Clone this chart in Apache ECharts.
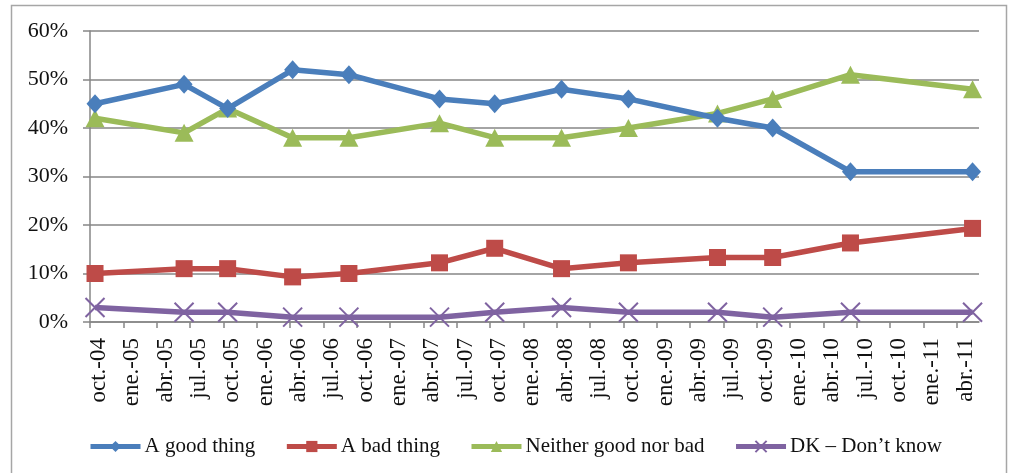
<!DOCTYPE html>
<html>
<head>
<meta charset="utf-8">
<script src="https://cdn.jsdelivr.net/npm/echarts@6/dist/echarts.min.js"></script>
<style>
  html, body { margin: 0; padding: 0; background: #fff; }
  #chart { width: 1012px; height: 473px; }
</style>
</head>
<body>
<div id="chart"></div>
<script>
// Quarterly tick labels on the date axis, starting October 2004
const tickLabels = ['oct.-04', 'ene.-05', 'abr.-05', 'jul.-05', 'oct.-05', 'ene.-06', 'abr.-06',
  'jul.-06', 'oct.-06', 'ene.-07', 'abr.-07', 'jul.-07', 'oct.-07', 'ene.-08', 'abr.-08',
  'jul.-08', 'oct.-08', 'ene.-09', 'abr.-09', 'jul.-09', 'oct.-09', 'ene.-10', 'abr.-10',
  'jul.-10', 'oct.-10', 'ene.-11', 'abr.-11'];

// Survey fieldwork dates
const surveyDates = ['2004-10-15', '2005-06-15', '2005-10-13', '2006-04-08', '2006-09-10',
  '2007-05-15', '2007-10-14', '2008-04-14', '2008-10-15', '2009-06-15', '2009-11-14',
  '2010-06-14', '2011-05-14'];

// Shares of respondents (%)
const goodThing = [45, 49, 44, 52, 51, 46, 45, 48, 46, 42, 40, 31, 31];
const badThing = [10, 11, 11, 9.3, 10, 12.2, 15.2, 11, 12.2, 13.3, 13.3, 16.3, 19.3];
const neither = [42, 39, 44, 38, 38, 41, 38, 38, 40, 43, 46, 51, 48];
const dontKnow = [3, 2, 2, 1, 1, 1, 2, 3, 2, 2, 1, 2, 2];

const seriesNames = ['A good thing', 'A bad thing', 'Neither good nor bad', 'DK \u2013 Don\u2019t know'];
const colors = ['#4A7EBB', '#BE4B48', '#9BBB59', '#7F63A1'];

// Months elapsed since 1 October 2004 (fractional, day-level)
function monthsFromStart(iso) {
  const [y, m, d] = iso.split('-').map(Number);
  const dim = new Date(y, m, 0).getDate();
  return (y - 2004) * 12 + (m - 10) + (d - 1) / dim;
}
const xs = surveyDates.map(monthsFromStart);
const pair = vals => vals.map((v, i) => [xs[i], v]);

const tickValues = tickLabels.map((_, i) => i * 3);
const labelShift = 0.8; // labels sit just inside the first month of each quarter
const labelValues = tickValues.map(v => v + labelShift);

const serif = 'Liberation Serif, Times New Roman, serif';

function lineSeries(idx, data, symbol, size, extra) {
  return Object.assign({
    name: seriesNames[idx],
    type: 'line',
    data: pair(data),
    symbol: symbol,
    symbolSize: size,
    showAllSymbol: true,
    z: 10 - idx,
    lineStyle: { width: 5.5, color: colors[idx] },
    itemStyle: { color: colors[idx] },
    emphasis: { disabled: true },
    animation: false
  }, extra || {});
}

const chart = echarts.init(document.getElementById('chart'), null, { renderer: 'canvas' });
chart.setOption({
  backgroundColor: '#ffffff',
  animation: false,
  graphic: [{
    type: 'rect',
    shape: { x: 11.5, y: 5.5, width: 995, height: 480 },
    style: { fill: 'none', stroke: '#A6A6A6', lineWidth: 1.5 },
    silent: true
  }],
  grid: { left: 90, right: 33, top: 31, bottom: 151 },
  xAxis: {
    type: 'value',
    min: 0,
    max: 80,
    axisLine: { show: true, lineStyle: { color: '#868686', width: 1.5 } },
    axisTick: { show: true, length: 6, customValues: tickValues, lineStyle: { color: '#868686', width: 1.5 } },
    splitLine: { show: false },
    axisLabel: {
      customValues: labelValues,
      rotate: 90,
      margin: 16,
      fontFamily: serif,
      fontSize: 23,
      color: '#111',
      formatter: v => tickLabels[Math.round((v - labelShift) / 3)] || ''
    }
  },
  yAxis: {
    type: 'value',
    min: 0,
    max: 60,
    interval: 10,
    axisLine: { show: true, lineStyle: { color: '#868686', width: 1.5 } },
    axisTick: { show: true, length: 7, lineStyle: { color: '#868686', width: 1.5 } },
    splitLine: { show: true, lineStyle: { color: '#868686', width: 1.5 } },
    axisLabel: {
      margin: 22,
      fontFamily: serif,
      fontSize: 22,
      color: '#111',
      formatter: '{value}%'
    }
  },
  legend: {
    left: 88,
    top: 436,
    padding: 0,
    itemWidth: 50,
    itemHeight: 14,
    itemGap: 29,
    lineStyle: { width: 5 },
    textStyle: { fontFamily: serif, fontSize: 21, color: '#111', padding: [0, 0, 0, -1] },
    data: seriesNames
  },
  series: [
    lineSeries(0, goodThing, 'diamond', [17, 19]),
    lineSeries(1, badThing, 'rect', 17),
    lineSeries(2, neither, 'triangle', [19, 18]),
    lineSeries(3, dontKnow, 'path://M0 0L10 10M10 0L0 10', 19, {
      itemStyle: { color: colors[3], borderColor: colors[3], borderWidth: 2 }
    })
  ]
});
</script>
</body>
</html>
